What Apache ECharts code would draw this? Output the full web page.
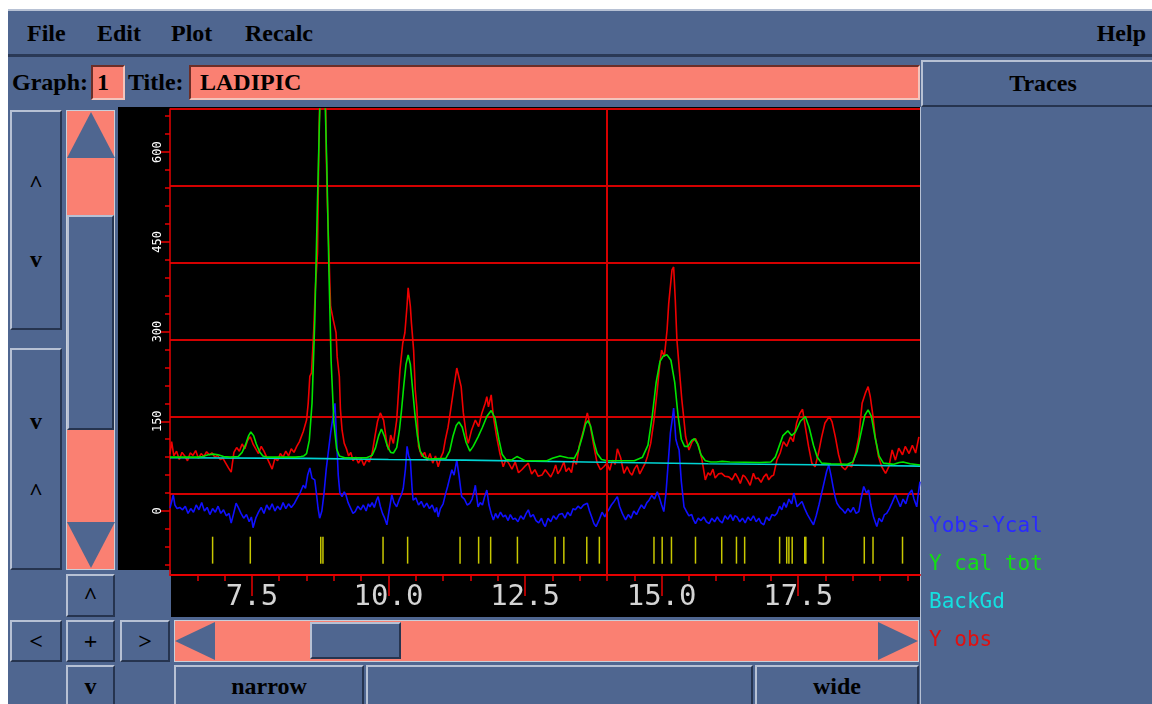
<!DOCTYPE html>
<html>
<head>
<meta charset="utf-8">
<title>LADIPIC</title>
<script src="https://cdn.jsdelivr.net/npm/echarts@6/dist/echarts.min.js"></script>
<style>
  html, body { margin:0; padding:0; background:#fff; width:1152px; height:704px; overflow:hidden; }
  .abs { position:absolute; box-sizing:border-box; }
  .win { left:8px; top:9px; width:1144px; height:695px; background:#4f6690; }
  .raised { border:2px solid; border-color:#b7c1d4 #26344f #26344f #b7c1d4; background:#4f6690; }
  .sunk { border:2px solid; border-color:#6b2e28 #f3c4bc #f3c4bc #6b2e28; background:#fa8072; }
  .txt { font-family:"Liberation Serif", "DejaVu Serif", serif; font-weight:bold; font-size:24px; color:#000; white-space:nowrap; }
  .btn { display:flex; align-items:center; justify-content:center; }
  .up { width:0; height:0; border-left:24px solid transparent; border-right:24px solid transparent; border-bottom:46px solid #4f6690; }
  .down { width:0; height:0; border-left:24px solid transparent; border-right:24px solid transparent; border-top:46px solid #4f6690; }
  .left { width:0; height:0; border-top:19px solid transparent; border-bottom:19px solid transparent; border-right:40px solid #4f6690; }
  .right { width:0; height:0; border-top:19px solid transparent; border-bottom:19px solid transparent; border-left:40px solid #4f6690; }
</style>
</head>
<body>
<div class="abs win"></div>

<!-- menu bar -->
<div class="abs" style="left:8px;top:9px;width:1144px;height:48px;border-top:2px solid #b7c1d4;border-bottom:3px solid #2a3956;"></div>
<div class="abs txt" style="left:27px;top:20px;line-height:26px;">File</div>
<div class="abs txt" style="left:97px;top:20px;line-height:26px;">Edit</div>
<div class="abs txt" style="left:171px;top:20px;line-height:26px;">Plot</div>
<div class="abs txt" style="left:245px;top:20px;line-height:26px;">Recalc</div>
<div class="abs txt" style="right:6px;top:20px;line-height:26px;">Help</div>

<!-- graph / title row -->
<div class="abs txt" style="left:12px;top:69px;line-height:26px;">Graph:</div>
<div class="abs sunk txt" style="left:91px;top:65px;width:34px;height:35px;line-height:31px;padding-left:4px;">1</div>
<div class="abs txt" style="left:128px;top:69px;line-height:26px;">Title:</div>
<div class="abs sunk txt" style="left:189px;top:65px;width:731px;height:35px;line-height:31px;padding-left:9px;">LADIPIC</div>
<div class="abs raised txt btn" style="left:921px;top:60px;width:244px;height:47px;">Traces</div>
<div class="abs" style="left:920px;top:107px;width:232px;height:597px;border-left:1px solid #b7c1d4;"></div>

<!-- plot background -->
<div class="abs" style="left:118px;top:107px;width:802px;height:510px;background:#000;"></div>
<div class="abs" style="left:118px;top:570px;width:53px;height:47px;background:#4f6690;"></div>

<!-- left controls -->
<div class="abs raised txt" style="left:10px;top:110px;width:52px;height:220px;">
  <div class="abs" style="left:0;width:48px;top:58px;text-align:center;">^</div>
  <div class="abs" style="left:0;width:48px;top:134px;text-align:center;">v</div>
</div>
<div class="abs raised txt" style="left:10px;top:348px;width:52px;height:222px;">
  <div class="abs" style="left:0;width:48px;top:58px;text-align:center;">v</div>
  <div class="abs" style="left:0;width:48px;top:128px;text-align:center;">^</div>
</div>
<div class="abs" style="left:66px;top:110px;width:49px;height:460px;background:#fa8072;border:1px solid #c9cfd9;"></div>
<div class="abs up" style="left:67px;top:112px;"></div>
<div class="abs raised" style="left:67px;top:215px;width:47px;height:215px;"></div>
<div class="abs down" style="left:67px;top:522px;"></div>
<div class="abs raised txt btn" style="left:66px;top:574px;width:49px;height:43px;">^</div>
<div class="abs raised txt btn" style="left:10px;top:620px;width:52px;height:42px;">&lt;</div>
<div class="abs raised txt btn" style="left:66px;top:620px;width:49px;height:42px;">+</div>
<div class="abs raised txt btn" style="left:120px;top:620px;width:50px;height:42px;">&gt;</div>
<div class="abs raised txt btn" style="left:66px;top:665px;width:49px;height:42px;">v</div>

<!-- horizontal scroll and zoom buttons -->
<div class="abs" style="left:174px;top:620px;width:745px;height:42px;background:#fa8072;border:1px solid #c9cfd9;"></div>
<div class="abs left" style="left:175px;top:622px;"></div>
<div class="abs raised" style="left:310px;top:622px;width:91px;height:37px;"></div>
<div class="abs right" style="left:878px;top:622px;"></div>
<div class="abs raised txt btn" style="left:174px;top:665px;width:190px;height:42px;">narrow</div>
<div class="abs raised" style="left:366px;top:665px;width:387px;height:42px;"></div>
<div class="abs raised txt btn" style="left:755px;top:665px;width:164px;height:42px;">wide</div>

<div id="chart" class="abs" style="left:0;top:0;width:1152px;height:704px;z-index:5;"></div>

<script>
// axis ranges (2-theta, counts)
const xMin = 6.0, xMax = 19.73;
const yMin = -107, yMax = 672;
const xTickLabels = [7.5, 10.0, 12.5, 15.0, 17.5];
const yTickLabels = [0, 150, 300, 450, 600];
const cursorX = 14.0;
const reflTop = -43, reflBottom = -88;

// observed profile
const yObs = [
  [6.00,95],[6.03,116],[6.07,92],[6.12,100],[6.17,86],[6.22,98],[6.27,92],[6.32,84],[6.37,97],[6.42,93],
  [6.47,101],[6.52,88],[6.57,96],[6.62,91],[6.67,99],[6.72,94],[6.77,97],[6.82,90],[6.87,93],[6.92,86],
  [6.97,88],[7.02,80],[7.07,72],[7.12,65],[7.17,98],[7.22,106],[7.27,100],[7.32,112],[7.37,104],[7.42,118],
  [7.47,124],[7.52,112],[7.57,104],[7.62,96],[7.67,108],[7.72,100],[7.77,90],[7.82,80],[7.87,70],[7.92,88],
  [7.97,84],[8.02,96],[8.07,90],[8.12,100],[8.17,92],[8.22,104],[8.27,98],[8.32,108],[8.37,116],[8.44,133],
  [8.50,152],[8.53,180],[8.56,225],[8.59,231],[8.63,300],[8.66,370],[8.70,431],[8.73,643],[8.77,780],[8.81,840],
  [8.84,760],[8.86,600],[8.88,520],[8.90,460],[8.94,342],[8.99,319],[9.04,298],[9.06,258],[9.10,225],[9.12,170],
  [9.15,135],[9.19,113],[9.23,104],[9.27,92],[9.31,98],[9.35,84],[9.40,90],[9.45,80],[9.50,88],[9.55,76],
  [9.60,86],[9.65,82],[9.70,96],[9.75,124],[9.80,150],[9.85,164],[9.91,152],[9.97,113],[10.00,102],[10.04,127],
  [10.09,113],[10.15,152],[10.21,236],[10.26,280],[10.30,298],[10.34,344],[10.36,373],[10.40,342],[10.42,314],[10.46,269],
  [10.49,202],[10.52,172],[10.55,108],[10.61,91],[10.66,98],[10.71,84],[10.76,96],[10.81,80],[10.86,92],[10.91,74],
  [10.96,90],[11.00,98],[11.04,119],[11.09,140],[11.13,164],[11.19,202],[11.25,239],[11.28,242],[11.33,208],[11.37,164],
  [11.43,124],[11.46,113],[11.52,135],[11.59,152],[11.65,141],[11.71,164],[11.77,180],[11.80,191],[11.83,174],[11.88,194],
  [11.92,158],[11.98,124],[12.04,96],[12.10,74],[12.15,86],[12.20,80],[12.26,70],[12.32,82],[12.38,64],[12.44,69],
  [12.50,75],[12.56,80],[12.62,62],[12.68,69],[12.74,58],[12.81,60],[12.87,69],[12.90,71],[12.97,57],[13.02,66],
  [13.06,77],[13.10,62],[13.15,69],[13.21,82],[13.25,66],[13.30,72],[13.35,64],[13.39,85],[13.44,78],[13.49,108],
  [13.57,135],[13.64,164],[13.70,139],[13.76,108],[13.82,80],[13.88,69],[13.94,74],[14.00,80],[14.05,68],[14.10,85],
  [14.15,78],[14.19,104],[14.25,89],[14.31,63],[14.37,74],[14.42,64],[14.46,60],[14.50,70],[14.55,77],[14.60,62],
  [14.64,69],[14.70,80],[14.74,91],[14.80,113],[14.86,152],[14.92,202],[14.96,240],[15.00,269],[15.05,258],[15.10,303],
  [15.13,347],[15.19,403],[15.22,408],[15.25,353],[15.28,286],[15.33,230],[15.37,186],[15.40,160],[15.44,124],[15.50,102],
  [15.56,116],[15.62,121],[15.68,108],[15.74,85],[15.80,52],[15.85,64],[15.89,60],[15.94,70],[15.98,55],[16.04,62],
  [16.10,63],[16.16,58],[16.23,57],[16.29,52],[16.35,63],[16.40,55],[16.44,46],[16.49,60],[16.53,57],[16.58,50],
  [16.62,43],[16.68,63],[16.72,54],[16.77,55],[16.82,48],[16.87,57],[16.92,62],[16.96,52],[17.01,58],[17.05,60],
  [17.11,85],[17.17,97],[17.23,116],[17.29,108],[17.36,124],[17.41,116],[17.47,147],[17.53,163],[17.58,170],[17.63,141],
  [17.69,108],[17.75,80],[17.81,74],[17.87,96],[17.93,124],[17.99,147],[18.07,158],[18.12,149],[18.18,124],[18.24,94],
  [18.30,74],[18.36,69],[18.42,77],[18.48,74],[18.55,96],[18.61,124],[18.67,180],[18.73,197],[18.78,208],[18.82,191],
  [18.87,158],[18.91,124],[18.97,91],[19.03,74],[19.10,63],[19.16,74],[19.22,102],[19.28,85],[19.34,105],[19.41,94],
  [19.46,108],[19.53,96],[19.59,110],[19.65,97],[19.71,124]
];

// calculated profile
const yCalc = [
  [6.00,90],[6.50,90],[6.60,91],[6.70,94],[6.79,95],[6.88,94],[6.98,91],[7.10,90],[7.25,91],[7.32,98],
  [7.38,110],[7.44,126],[7.48,132],[7.53,126],[7.58,112],[7.64,99],[7.70,92],[7.78,90],[8.30,90],[8.40,91],
  [8.45,92],[8.50,96],[8.55,118],[8.60,180],[8.65,317],[8.70,518],[8.75,702],[8.79,760],[8.83,720],[8.87,580],
  [8.91,400],[8.95,250],[9.00,148],[9.05,104],[9.10,92],[9.20,89],[9.60,89],[9.70,93],[9.76,105],[9.82,126],
  [9.87,137],[9.92,126],[9.98,108],[10.04,98],[10.09,97],[10.15,106],[10.20,135],[10.24,170],[10.28,210],[10.32,245],
  [10.36,261],[10.40,245],[10.44,205],[10.48,165],[10.53,125],[10.58,100],[10.65,90],[10.75,87],[11.05,88],[11.12,100],
  [11.18,125],[11.24,143],[11.29,149],[11.35,140],[11.42,115],[11.49,100],[11.55,108],[11.64,124],[11.72,140],[11.80,158],
  [11.88,168],[11.95,155],[12.02,120],[12.08,95],[12.15,86],[12.25,85],[12.30,88],[12.35,91],[12.42,88],[12.50,84],
  [12.90,84],[13.00,88],[13.14,92],[13.28,89],[13.40,88],[13.47,100],[13.55,125],[13.61,146],[13.65,151],[13.70,142],
  [13.76,116],[13.82,96],[13.90,86],[14.00,84],[14.50,84],[14.65,90],[14.75,110],[14.83,160],[14.90,215],[14.97,250],
  [15.03,259],[15.10,261],[15.17,252],[15.24,215],[15.30,160],[15.36,120],[15.42,108],[15.48,108],[15.55,118],[15.60,121],
  [15.66,112],[15.72,94],[15.80,84],[15.90,82],[16.00,82],[16.11,83],[16.25,82],[16.80,81],[17.00,82],[17.08,90],
  [17.15,108],[17.22,126],[17.31,134],[17.38,126],[17.45,132],[17.54,150],[17.63,158],[17.70,140],[17.78,110],[17.85,90],
  [17.93,80],[18.10,79],[18.40,78],[18.50,82],[18.58,100],[18.66,135],[18.72,160],[18.78,169],[18.84,158],[18.91,122],
  [18.98,92],[19.06,80],[19.25,78],[19.35,81],[19.42,82],[19.55,79],[19.73,77]
];

// background
const backGd = [
  [6.00,89],[8.50,88],[10.00,86],[11.40,85],[11.43,82],[13.60,82],[13.63,80],[15.85,79],
  [15.88,77.5],[18.30,77],[18.33,75.5],[19.73,75]
];

// difference curve
const yDiff = [
  [6.00,5],[6.03,8],[6.06,27],[6.09,10],[6.13,4],[6.18,6],[6.23,2],[6.28,8],[6.33,-4],[6.38,4],
  [6.43,-2],[6.48,10],[6.53,2],[6.58,14],[6.63,0],[6.68,6],[6.73,-6],[6.78,4],[6.83,-2],[6.88,8],
  [6.93,-4],[6.98,2],[7.03,-8],[7.08,-4],[7.12,-20],[7.16,-6],[7.21,13],[7.25,6],[7.30,-4],[7.35,-12],
  [7.40,-6],[7.45,-18],[7.49,-10],[7.52,-28],[7.57,-12],[7.62,-2],[7.67,6],[7.72,-4],[7.77,10],[7.82,2],
  [7.87,12],[7.92,0],[7.97,8],[8.02,2],[8.07,14],[8.12,4],[8.17,12],[8.22,6],[8.28,13],[8.33,22],
  [8.38,30],[8.44,43],[8.48,38],[8.52,60],[8.56,72],[8.60,55],[8.65,52],[8.68,30],[8.71,5],[8.74,-12],
  [8.78,0],[8.82,30],[8.86,70],[8.90,100],[8.94,130],[8.98,155],[9.02,180],[9.05,120],[9.08,60],[9.11,30],
  [9.15,24],[9.19,32],[9.22,27],[9.26,14],[9.30,6],[9.35,-4],[9.39,-1],[9.44,8],[9.49,2],[9.54,10],
  [9.59,0],[9.63,12],[9.66,7],[9.70,14],[9.74,6],[9.78,18],[9.81,24],[9.85,8],[9.89,-4],[9.93,-12],
  [9.97,-23],[10.01,0],[10.04,16],[10.06,27],[10.10,14],[10.15,7],[10.20,20],[10.24,28],[10.27,38],[10.31,70],
  [10.34,108],[10.37,92],[10.40,85],[10.43,40],[10.45,18],[10.50,22],[10.55,10],[10.60,16],[10.65,6],[10.70,13],
  [10.75,4],[10.80,10],[10.85,-2],[10.88,6],[10.91,-10],[10.95,4],[11.00,12],[11.04,27],[11.08,40],[11.12,55],
  [11.16,69],[11.20,60],[11.25,85],[11.29,60],[11.34,24],[11.39,20],[11.44,10],[11.49,13],[11.53,20],[11.56,30],
  [11.59,43],[11.62,20],[11.64,7],[11.68,14],[11.72,10],[11.76,24],[11.80,35],[11.84,10],[11.88,-4],[11.92,-15],
  [11.96,-4],[12.00,-12],[12.05,-2],[12.10,-10],[12.14,-7],[12.19,-16],[12.23,-6],[12.28,-14],[12.32,-12],[12.37,-18],
  [12.42,-8],[12.47,-14],[12.52,-4],[12.56,2],[12.60,-10],[12.65,-6],[12.70,-16],[12.75,-20],[12.80,-12],[12.84,-22],
  [12.87,-26],[12.92,-12],[12.97,-18],[13.02,-8],[13.07,-14],[13.12,-6],[13.18,-4],[13.23,-12],[13.28,-2],[13.33,-8],
  [13.38,4],[13.42,2],[13.47,8],[13.52,4],[13.57,10],[13.64,13],[13.68,0],[13.72,-10],[13.76,-21],[13.80,-26],
  [13.86,-14],[13.91,-2],[13.96,-10],[14.00,-2],[14.03,2],[14.08,10],[14.13,16],[14.19,24],[14.23,8],[14.28,-4],
  [14.34,-15],[14.39,-6],[14.44,-12],[14.49,0],[14.54,-6],[14.58,2],[14.63,10],[14.68,4],[14.73,14],[14.77,18],
  [14.82,26],[14.87,20],[14.92,32],[14.96,22],[15.00,10],[15.04,-1],[15.08,30],[15.12,80],[15.16,130],[15.19,150],
  [15.22,172],[15.26,120],[15.29,110],[15.32,102],[15.36,50],[15.41,7],[15.45,0],[15.50,-8],[15.55,-6],[15.58,-14],
  [15.62,-21],[15.67,-12],[15.72,-16],[15.77,-10],[15.82,-18],[15.87,-21],[15.92,-12],[15.97,-18],[16.02,-10],[16.06,-16],
  [16.11,-20],[16.16,-8],[16.21,-14],[16.26,-6],[16.31,-16],[16.34,-8],[16.38,-10],[16.43,-18],[16.48,-12],[16.53,-20],
  [16.58,-10],[16.63,-16],[16.68,-8],[16.73,-18],[16.78,-12],[16.82,-20],[16.87,-23],[16.92,-10],[16.97,-16],[17.02,-6],
  [17.07,-8],[17.11,-4],[17.16,8],[17.20,2],[17.24,14],[17.28,6],[17.33,20],[17.38,12],[17.42,30],[17.48,7],
  [17.53,12],[17.57,16],[17.62,4],[17.67,-6],[17.72,-14],[17.78,-23],[17.83,-8],[17.88,10],[17.93,30],[17.98,50],
  [18.02,66],[18.06,77],[18.10,60],[18.14,40],[18.18,22],[18.21,13],[18.26,6],[18.31,2],[18.36,-4],[18.41,4],
  [18.46,-2],[18.51,6],[18.56,-4],[18.61,-1],[18.65,20],[18.70,41],[18.75,30],[18.79,35],[18.83,10],[18.88,-10],
  [18.94,-26],[18.98,-12],[19.03,-18],[19.08,-6],[19.12,-4],[19.17,4],[19.22,14],[19.28,27],[19.32,18],[19.37,7],
  [19.42,20],[19.47,12],[19.52,28],[19.58,35],[19.62,20],[19.67,7],[19.70,30],[19.73,49]
];

// reflection positions
const reflections = [
  6.78, 7.47, 8.76, 8.80, 9.90, 10.35, 11.31, 11.65, 11.87, 12.36,
  13.05, 13.21, 13.63, 13.86, 14.86, 15.01, 15.18, 15.62, 16.10, 16.37,
  16.52, 17.16, 17.29, 17.33, 17.39, 17.62, 17.64, 17.96, 18.71, 18.87, 19.41
];

// tick positions for the axes
const xMinorTicks = [];
for (let v = 6.5; v < xMax; v += 0.5) xMinorTicks.push(+v.toFixed(2));
const yMinorTicks = [];
for (let v = -90; v <= 660; v += 30) yMinorTicks.push(v);

const red = '#e60000', gridRed = '#d40000';
const mono = '"DejaVu Sans Mono", "Liberation Mono", monospace';

let chart = echarts.init(document.getElementById('chart'));

let option = {
  animation: false,
  backgroundColor: 'transparent',
  grid: [
    { left: 170, top: 109, width: 750, height: 466 },
    { left: 170, top: 109, width: 750, height: 462 }
  ],
  legend: {
    orient: 'vertical',
    left: 918,
    top: 511,
    itemWidth: 0,
    itemHeight: 0,
    itemGap: 17,
    selectedMode: false,
    textStyle: { fontFamily: mono, fontSize: 21, lineHeight: 21 },
    data: [
      { name: 'Yobs-Ycal', textStyle: { color: '#2a2aff' } },
      { name: 'Y cal tot', textStyle: { color: '#12e012' } },
      { name: 'BackGd', textStyle: { color: '#14e0e0' } },
      { name: 'Y obs', textStyle: { color: '#e01010' } }
    ]
  },
  xAxis: [
    {
      type: 'value', gridIndex: 0, min: xMin, max: xMax, position: 'bottom',
      axisLine: { onZero: false, lineStyle: { color: red, width: 2 } },
      axisTick: { customValues: xMinorTicks, length: 6, lineStyle: { color: red, width: 1.5 } },
      axisLabel: {
        customValues: xTickLabels, margin: 8, color: '#d4d4d4',
        fontFamily: mono, fontSize: 29,
        formatter: v => v.toFixed(1)
      },
      splitLine: { show: false }
    },
    {
      type: 'value', gridIndex: 0, min: xMin, max: xMax, position: 'bottom',
      axisLine: { show: false, onZero: false },
      axisTick: { customValues: xTickLabels, length: 21, lineStyle: { color: red, width: 1.5 } },
      axisLabel: { show: false },
      splitLine: { show: false }
    },
    { type: 'value', gridIndex: 1, min: 0, max: 1, show: false }
  ],
  yAxis: [
    {
      type: 'value', gridIndex: 0, min: yMin, max: yMax, position: 'left',
      axisLine: { show: true, onZero: false, lineStyle: { color: red, width: 1.5 } },
      axisTick: { show: true, customValues: yMinorTicks, length: 5, lineStyle: { color: red, width: 1.5 } },
      axisLabel: {
        customValues: yTickLabels, rotate: 90, margin: 6,
        color: '#ffffff', fontFamily: mono, fontSize: 12
      },
      splitLine: { show: false }
    },
    {
      type: 'value', gridIndex: 0, min: yMin, max: yMax, position: 'left', offset: 0,
      axisLine: { show: false, onZero: false },
      axisTick: { show: true, customValues: yTickLabels, length: 10, lineStyle: { color: red, width: 1.5 } },
      axisLabel: { show: false },
      splitLine: { show: false }
    },
    {
      type: 'value', gridIndex: 1, min: 0, max: 6, interval: 1,
      axisLine: { show: false }, axisTick: { show: false }, axisLabel: { show: false },
      splitLine: { show: true, showMinLine: false, lineStyle: { color: gridRed, width: 2 } }
    }
  ],
  series: [
    {
      name: 'Yobs-Ycal', type: 'line', xAxisIndex: 0, yAxisIndex: 0,
      data: yDiff, symbol: 'none', lineStyle: { color: '#1010ff', width: 1.6 },
      itemStyle: { color: '#1010ff' },
      markLine: {
        silent: true, symbol: 'none', label: { show: false },
        lineStyle: { color: gridRed, width: 2, type: 'solid' },
        data: [{ xAxis: cursorX }]
      }
    },
    {
      name: 'Y obs', type: 'line', xAxisIndex: 0, yAxisIndex: 0,
      data: yObs, symbol: 'none', lineStyle: { color: '#f00000', width: 1.6 },
      itemStyle: { color: '#f00000' }
    },
    {
      name: 'BackGd', type: 'line', xAxisIndex: 0, yAxisIndex: 0,
      data: backGd, symbol: 'none', lineStyle: { color: '#00d4d4', width: 1.6 },
      itemStyle: { color: '#00d4d4' }
    },
    {
      name: 'Y cal tot', type: 'line', xAxisIndex: 0, yAxisIndex: 0,
      data: yCalc, symbol: 'none', lineStyle: { color: '#00e400', width: 1.6 },
      itemStyle: { color: '#00e400' }
    },
    {
      name: 'reflections', type: 'custom', xAxisIndex: 0, yAxisIndex: 0,
      data: reflections.map(v => [v]),
      encode: { x: 0 },
      silent: true,
      renderItem: function (params, api) {
        let p1 = api.coord([api.value(0), reflTop]);
        let p2 = api.coord([api.value(0), reflBottom]);
        return {
          type: 'line',
          shape: { x1: p1[0], y1: p1[1], x2: p2[0], y2: p2[1] },
          style: { stroke: '#c8c800', lineWidth: 1.5 }
        };
      }
    }
  ]
};

chart.setOption(option);
</script>
</body>
</html>
